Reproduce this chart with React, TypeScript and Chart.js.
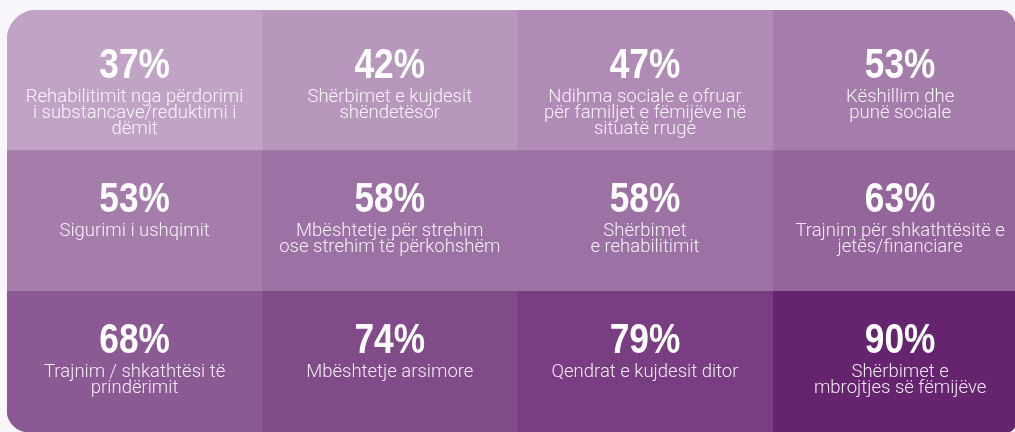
import React, { useEffect, useRef } from "react";
import { Chart, registerables } from "chart.js";

Chart.register(...registerables);

// ---- data ----
const rows = ["Rreshti 1", "Rreshti 2", "Rreshti 3"];
const columnCount = 4;
const percentages = [37, 42, 47, 53, 53, 58, 58, 63, 68, 74, 79, 90];
const labels = [
  "Rehabilitimit nga përdorimi\ni substancave/reduktimi i\ndëmit",
  "Shërbimet e kujdesit\nshëndetësor",
  "Ndihma sociale e ofruar\npër familjet e fëmijëve në\nsituatë rruge",
  "Këshillim dhe\npunë sociale",
  "Sigurimi i ushqimit",
  "Mbështetje për strehim\nose strehim të përkohshëm",
  "Shërbimet\ne rehabilitimit",
  "Trajnim për shkathtësitë e\njetës/financiare",
  "Trajnim / shkathtësi të\nprindërimit",
  "Mbështetje arsimore",
  "Qendrat e kujdesit ditor",
  "Shërbimet e\nmbrojtjes së fëmijëve",
];

// ---- styling ----
const X_MAX = 3.95; // visible share of the 4th column
const PAGE_BG = "#f8f6fa";
const LOW = { v: 37, c: [192, 163, 197] };
const HIGH = { v: 90, c: [102, 36, 111] };
const NUM_BASELINE = [68, 61, 62];
const LABEL_GAP = 24;
const LINE_H = 16;
const NUM_SQUEEZE = 0.84;

function colorFor(v: number) {
  const t = (v - LOW.v) / (HIGH.v - LOW.v);
  const c = LOW.c.map((a, i) => Math.round(a + (HIGH.c[i] - a) * t));
  return `rgb(${c[0]},${c[1]},${c[2]})`;
}

function radiusFor(r: number, c: number) {
  return {
    topLeft: r === 0 && c === 0 ? 30 : 0,
    topRight: r === 0 && c === columnCount - 1 ? 16 : 0,
    bottomLeft: r === rows.length - 1 && c === 0 ? 22 : 0,
    bottomRight: r === rows.length - 1 && c === columnCount - 1 ? 8 : 0,
  };
}

const textPlugin = {
  id: "tileText",
  afterDatasetsDraw(chart: any) {
    const { ctx, scales } = chart;
    const xs = scales.x;
    const ys = scales.y;
    const band = Math.abs(ys.getPixelForValue(1) - ys.getPixelForValue(0));
    ctx.save();
    ctx.textAlign = "center";
    ctx.textBaseline = "alphabetic";
    rows.forEach((_, r) => {
      const top = ys.getPixelForValue(r) - band / 2;
      for (let c = 0; c < columnCount; c++) {
        const i = r * columnCount + c;
        const cx = xs.getPixelForValue(c + 0.5);
        const by = top + NUM_BASELINE[r];
        ctx.save();
        ctx.translate(cx, by);
        ctx.scale(NUM_SQUEEZE, 1);
        ctx.fillStyle = "#ffffff";
        ctx.font = 'bold 42px "Liberation Sans", Arial, sans-serif';
        ctx.fillText(`${percentages[i]}%`, 0, 0);
        ctx.restore();
        ctx.fillStyle = "rgba(255,255,255,0.9)";
        ctx.font = '300 18.5px Roboto, "Liberation Sans", sans-serif';
        labels[i].split("\n").forEach((line, k) => {
          ctx.fillText(line, cx, by + LABEL_GAP + k * LINE_H);
        });
      }
    });
    ctx.restore();
  },
};

export default function App() {
  const ref = useRef<HTMLCanvasElement>(null);
  useEffect(() => {
    if (!ref.current) return;
    const datasets = Array.from({ length: columnCount }, (_, c) => ({
      label: `Kolona ${c + 1}`,
      data: rows.map(() => [c, Math.min(c + 1, X_MAX)]),
      backgroundColor: rows.map((_, r) => colorFor(percentages[r * columnCount + c])),
      borderWidth: 0,
      borderSkipped: false,
      borderRadius: rows.map((_, r) => radiusFor(r, c)),
      categoryPercentage: 1,
      barPercentage: 1,
      grouped: false,
    }));
    const chart = new Chart(ref.current, {
      type: "bar",
      data: { labels: rows, datasets: datasets as any },
      options: {
        indexAxis: "y",
        animation: false,
        responsive: false,
        devicePixelRatio: 1,
        layout: { padding: { left: 7, top: 10, right: 0, bottom: 0 } },
        scales: {
          x: { type: "linear", min: 0, max: X_MAX, display: false },
          y: { type: "category", display: false, offset: true },
        },
        plugins: { legend: { display: false }, tooltip: { enabled: false } },
      },
      plugins: [textPlugin],
    });
    return () => chart.destroy();
  }, []);
  return (
    <div style={{ position: "fixed", left: 0, top: 0, width: 1015, height: 432, background: PAGE_BG }}>
      <canvas ref={ref} width={1015} height={432} style={{ display: "block" }} />
    </div>
  );
}
